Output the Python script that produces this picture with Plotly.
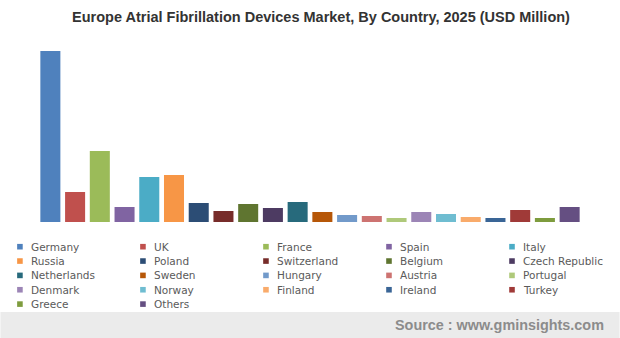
import plotly.graph_objects as go

countries = ["Germany", "UK", "France", "Spain", "Italy", "Russia", "Poland",
             "Switzerland", "Belgium", "Czech Republic", "Netherlands", "Sweden",
             "Hungary", "Austria", "Portugal", "Denmark", "Norway", "Finland",
             "Ireland", "Turkey", "Greece", "Others"]
values = [684, 120, 284, 60, 180, 188, 76, 44, 72, 56, 80, 40,
          28, 24, 16, 40, 32, 20, 16, 48, 16, 60]
colors = ["#4F81BD", "#C0504D", "#9BBB59", "#8064A2", "#4BACC6", "#F79646",
          "#2C4D75", "#772C2A", "#5F7530", "#4D3B62", "#276A7C", "#B65708",
          "#729ACA", "#CD7371", "#AFC97A", "#9C85B6", "#6FBDD1", "#F9AB6B",
          "#3A6596", "#A03A38", "#7E9C3E", "#654F82"]
title_text = "Europe Atrial Fibrillation Devices Market, By Country, 2025 (USD Million)"
source_text = "Source : www.gminsights.com"

W, H = 620, 338
ML, MR, MT, MB = 37.6, 37.6, 45, 116
PW, PH = W - ML - MR, H - MT - MB

def px2x(px):
    return (px - ML) / PW

def py2y(py):
    return (H - MB - py) / PH

fig = go.Figure()
fig.add_trace(go.Bar(x=countries, y=values, marker=dict(color=colors, line=dict(width=0)),
                     showlegend=False, hoverinfo="x+y"))

shapes = []
annotations = []
# footer band
shapes.append(dict(type="rect", xref="paper", yref="paper", x0=px2x(0), x1=px2x(W),
                   y0=py2y(H), y1=py2y(312), fillcolor="#EBEBEB", line=dict(width=0),
                   layer="below"))
# manual legend
col_w = 123.2
row_h = 14.35
for i, (name, c) in enumerate(zip(countries, colors)):
    col, row = i % 5, i // 5
    cx = 19.5 + col * col_w
    cy = 246.7 + row * row_h
    shapes.append(dict(type="rect", xref="paper", yref="paper",
                       x0=px2x(cx - 2.8), x1=px2x(cx + 2.8),
                       y0=py2y(cy + 2.8), y1=py2y(cy - 2.8),
                       fillcolor=c, line=dict(width=0)))
    annotations.append(dict(text=name, xref="paper", yref="paper",
                            x=px2x(cx + 9.0), y=py2y(cy), xanchor="left", yanchor="middle",
                            showarrow=False,
                            font=dict(family="DejaVu Sans", size=10.5, color="#5A5A5A")))
annotations.append(dict(text="<b>" + title_text + "</b>", xref="paper", yref="paper",
                        x=px2x(321), y=py2y(17), xanchor="center", yanchor="middle",
                        showarrow=False,
                        font=dict(family="Liberation Sans", size=14.5, color="#333333")))
annotations.append(dict(text="<b>" + source_text + "</b>", xref="paper", yref="paper",
                        x=px2x(606), y=py2y(325), xanchor="right", yanchor="middle",
                        showarrow=False,
                        font=dict(family="Liberation Sans", size=14.4, color="#8C8C8C")))

fig.update_layout(
    width=W, height=H,
    margin=dict(l=ML, r=MR, t=MT, b=MB, pad=0),
    paper_bgcolor="white", plot_bgcolor="white",
    bargap=0.19,
    xaxis=dict(visible=False, range=[-0.5, len(countries) - 0.5]),
    yaxis=dict(visible=False, range=[0, 708]),
    shapes=shapes, annotations=annotations,
    showlegend=False,
)
fig.write_html("out.html")
